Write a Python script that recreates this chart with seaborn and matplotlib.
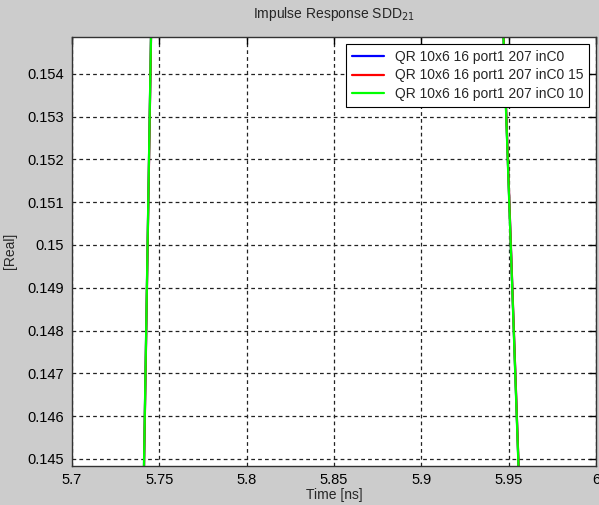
import matplotlib
matplotlib.use("Agg")
import matplotlib.pyplot as plt
import seaborn as sns
import pandas as pd
import numpy as np

series_names = ["QR 10x6 16 port1 207 inC0",
                "QR 10x6 16 port1 207 inC0 15",
                "QR 10x6 16 port1 207 inC0 10"]
colors = ["#0000ff", "#ff0000", "#00ff00"]

time_ns = [5.740, 5.748, 5.944, 5.958]
blue_vals = [0.14178, 0.16178, 0.15842, 0.14210]
red_vals = [0.14172, 0.16172, 0.15846, 0.14214]
green_vals = [0.14184, 0.16184, 0.15836, 0.14204]

xticks = [5.7, 5.75, 5.8, 5.85, 5.9, 5.95, 6.0]
xtick_labels = ["5.7", "5.75", "5.8", "5.85", "5.9", "5.95", "6"]
yticks = [0.145, 0.146, 0.147, 0.148, 0.149, 0.150, 0.151, 0.152, 0.153, 0.154]
ytick_labels = ["0.145", "0.146", "0.147", "0.148", "0.149", "0.15",
                "0.151", "0.152", "0.153", "0.154"]

rows = []
for name, vals in zip(series_names, [blue_vals, red_vals, green_vals]):
    for t, v in zip(time_ns, vals):
        rows.append({"Time": t, "Value": v, "Series": name})
df = pd.DataFrame(rows)

sns.set_style("white")
plt.rcParams['font.family'] = ['Liberation Sans', 'DejaVu Sans']

fig = plt.figure(figsize=(5.99, 5.05), dpi=100, facecolor="#cccccc")
ax = fig.add_axes([0.1202, 0.0778, 0.8748, 0.8489])
ax.set_facecolor("white")

sns.lineplot(data=df, x="Time", y="Value", hue="Series", palette=colors,
             hue_order=series_names, ax=ax, linewidth=1.6, sort=False,
             estimator=None, legend=True)

ax.set_xlim(5.7, 6.0)
ax.set_ylim(0.14484, 0.15486)
ax.set_xticks(xticks)
ax.set_xticklabels(xtick_labels)
ax.set_yticks(yticks)
ax.set_yticklabels(ytick_labels)
ax.tick_params(direction="in", length=5, width=1, labelsize=10.5, colors="black",
               top=True, right=True, pad=6)
ax.tick_params(axis="x", pad=5)
ax.grid(True, color="#222222", linestyle=(0, (3, 2.5)), linewidth=0.9)
for s in ax.spines.values():
    s.set_color("#333333")
    s.set_linewidth(1)
    s.set_visible(True)

ax.set_title("Impulse Response SDD$_{21}$", fontsize=10, pad=14)
ax.set_xlabel("Time [ns]", fontsize=10, labelpad=1)
ax.set_ylabel("[Real]", fontsize=10, labelpad=7)

leg = ax.legend(loc="upper right", fontsize=10, frameon=True, fancybox=False,
                edgecolor="black", handlelength=2.3, borderaxespad=0.5,
                labelspacing=0.35, borderpad=0.4, framealpha=1)
leg.get_frame().set_linewidth(0.8)

fig.savefig("out.png", dpi=100, facecolor=fig.get_facecolor())
